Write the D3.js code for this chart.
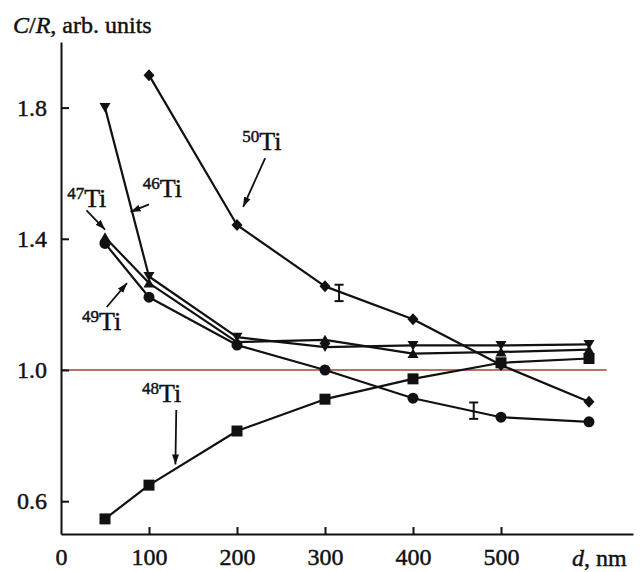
<!DOCTYPE html>
<html>
<head>
<meta charset="utf-8">
<script src="https://cdn.jsdelivr.net/npm/d3@7"></script>
<style>
  html, body { margin: 0; padding: 0; background: #fff; }
  svg { display: block; }
  text { font-family: "Liberation Serif", "Times New Roman", serif; fill: #111; stroke: #111; stroke-width: 0.45px; }
</style>
</head>
<body>
<svg id="chart" width="642" height="572"></svg>
<script>
// Film thickness d (nm) and relative yield C/R of the titanium isotopes
const thickness = [50, 100, 200, 300, 400, 500, 600];
const ti46 = [1.80, 1.285, 1.10, 1.07, 1.075, 1.075, 1.078];
const ti47 = [1.405, 1.265, 1.085, 1.092, 1.05, 1.055, 1.062];
const ti48 = [0.546, 0.649, 0.814, 0.911, 0.973, 1.022, 1.035];
const ti49 = [1.386, 1.222, 1.076, 1.0, 0.914, 0.856, 0.842];
const thickness50 = [100, 200, 300, 400, 500, 600];
const ti50 = [1.899, 1.442, 1.255, 1.155, 1.015, 0.903];

// Typical error bars
const errD = [316, 469];
const errV = [1.235, 0.876];
const errHalf = [0.025, 0.025];

// Axis ticks
const yTicks = [0.6, 1.0, 1.4, 1.8];
const xTicks = [0, 100, 200, 300, 400, 500];

// Isotope labels: mass number, text anchor (d, value), arrow tail and head (d, value)
const labelMass = ["50", "46", "47", "49", "48"];
const labelAt = [[206, 1.672], [93, 1.527], [7, 1.497], [24, 1.122], [92, 0.902]];
const arrowFrom = [[232, 1.646], [100, 1.505], [29, 1.487], [52, 1.192], [131, 0.878]];
const arrowTo = [[207, 1.497], [79, 1.482], [50, 1.428], [75, 1.265], [130, 0.712]];

const svg = d3.select("#chart");
const x = d3.scaleLinear().domain([0, 650]).range([61, 633]);
const y = d3.scaleLinear().domain([0.5, 2.0]).range([534, 42]);
const ink = "#111";

// Reference level C/R = 1
svg.append("line")
  .attr("x1", x(0)).attr("x2", x(620))
  .attr("y1", y(1.0)).attr("y2", y(1.0))
  .attr("stroke", "#a5432f").attr("stroke-width", 1.6);

// Axes with inward ticks
const yAxis = svg.append("g").attr("transform", `translate(${x(0)},0)`)
  .call(d3.axisLeft(y).tickValues(yTicks).tickSizeInner(-8).tickSizeOuter(0)
    .tickPadding(14).tickFormat(d3.format(".1f")));
const xAxis = svg.append("g").attr("transform", `translate(0,${y(0.5)})`)
  .call(d3.axisBottom(x).tickValues(xTicks).tickSizeInner(-7).tickSizeOuter(0)
    .tickPadding(14).tickFormat(d3.format("d")));
[yAxis, xAxis].forEach(g => {
  g.selectAll("path, line").attr("stroke", ink).attr("stroke-width", 2);
  g.selectAll("text").attr("font-size", 24).attr("font-family", "Liberation Serif, serif")
    .attr("fill", ink).attr("stroke", ink).attr("stroke-width", 0.45);
});
xAxis.selectAll(".tick").filter(d => d === 0).select("line").remove();

// Axis titles
const yTitle = svg.append("text").attr("x", 13).attr("y", 33).attr("font-size", 24);
yTitle.append("tspan").attr("font-style", "italic").text("C");
yTitle.append("tspan").text("/");
yTitle.append("tspan").attr("font-style", "italic").text("R");
yTitle.append("tspan").text(", arb. units");

const xTitle = svg.append("text").attr("x", 572).attr("y", 566).attr("font-size", 24);
xTitle.append("tspan").attr("font-style", "italic").text("d");
xTitle.append("tspan").text(", nm");

// Series lines
const line = d3.line().x(p => x(p[0])).y(p => y(p[1]));
const series = [
  { d: thickness, v: ti46, mark: "down" },
  { d: thickness, v: ti47, mark: "up" },
  { d: thickness, v: ti48, mark: "square" },
  { d: thickness, v: ti49, mark: "circle" },
  { d: thickness50, v: ti50, mark: "diamond" }
];
series.forEach(s => {
  const pts = s.d.map((d, i) => [d, s.v[i]]);
  svg.append("path").attr("d", line(pts))
    .attr("fill", "none").attr("stroke", ink).attr("stroke-width", 2.2)
    .attr("stroke-linejoin", "round");
});

// Marker shapes
const shapes = {
  down: "M-5.5,-4.5L5.5,-4.5L0,5Z",
  up: "M-5.5,4.5L5.5,4.5L0,-5Z",
  square: "M-5.5,-5.5H5.5V5.5H-5.5Z",
  diamond: "M0,-6L5.5,0L0,6L-5.5,0Z"
};
series.forEach(s => {
  const pts = s.d.map((d, i) => [d, s.v[i]]);
  const g = svg.append("g");
  if (s.mark === "circle") {
    g.selectAll("circle").data(pts).join("circle")
      .attr("cx", p => x(p[0])).attr("cy", p => y(p[1])).attr("r", 5.5).attr("fill", ink);
  } else {
    g.selectAll("path").data(pts).join("path")
      .attr("transform", p => `translate(${x(p[0])},${y(p[1])})`)
      .attr("d", shapes[s.mark]).attr("fill", ink);
  }
});

// Error bars
errD.forEach((d, i) => {
  const g = svg.append("g").attr("stroke", ink).attr("stroke-width", 2);
  const top = y(errV[i] + errHalf[i]), bot = y(errV[i] - errHalf[i]);
  g.append("line").attr("x1", x(d)).attr("x2", x(d)).attr("y1", top).attr("y2", bot);
  g.append("line").attr("x1", x(d) - 4.5).attr("x2", x(d) + 4.5).attr("y1", top).attr("y2", top);
  g.append("line").attr("x1", x(d) - 4.5).attr("x2", x(d) + 4.5).attr("y1", bot).attr("y2", bot);
});

// Arrowhead marker
svg.append("defs").append("marker")
  .attr("id", "head").attr("viewBox", "0 -4 10 8")
  .attr("refX", 10).attr("refY", 0)
  .attr("markerUnits", "userSpaceOnUse")
  .attr("markerWidth", 10).attr("markerHeight", 8)
  .attr("orient", "auto")
  .append("path").attr("d", "M0,-3.5L10,0L0,3.5Z").attr("fill", ink);

// Isotope labels with arrows
labelMass.forEach((m, i) => {
  const t = svg.append("text")
    .attr("x", x(labelAt[i][0])).attr("y", y(labelAt[i][1]));
  t.append("tspan").attr("font-size", 17).attr("dy", -8).text(m);
  t.append("tspan").attr("font-size", 26).attr("dy", 8).text("Ti");
  svg.append("line")
    .attr("x1", x(arrowFrom[i][0])).attr("y1", y(arrowFrom[i][1]))
    .attr("x2", x(arrowTo[i][0])).attr("y2", y(arrowTo[i][1]))
    .attr("stroke", ink).attr("stroke-width", 1.8)
    .attr("marker-end", "url(#head)");
});
</script>
</body>
</html>
